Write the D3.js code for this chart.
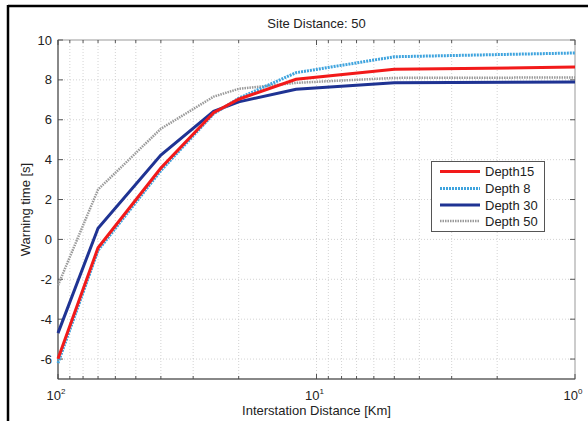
<!DOCTYPE html>
<html>
<head>
<meta charset="utf-8">
<script src="https://cdn.jsdelivr.net/npm/d3@7"></script>
<style>
  body { margin: 0; background: #fff; }
  text { font-family: "Liberation Sans", Arial, sans-serif; fill: #222; }
</style>
</head>
<body>
<div id="chart"></div>
<script>
// distances (km) where each curve has a vertex
var distances = [100, 70, 40, 25, 20, 12, 5, 1];

var depth15 = [-5.98, -0.42, 3.58, 6.35, 7.03, 8.03, 8.53, 8.64];
var depth8  = [-6.2, -0.55, 3.45, 6.3, 7.08, 8.36, 9.16, 9.35];
var depth30 = [-4.7, 0.56, 4.23, 6.42, 6.9, 7.53, 7.86, 7.9];
var depth50 = [-2.3, 2.5, 5.55, 7.16, 7.55, 7.85, 8.1, 8.12];

var seriesNames = ["Depth15", "Depth 8", "Depth 30", "Depth 50"];
var yTicks = [-6, -4, -2, 0, 2, 4, 6, 8, 10];
var xMajor = [100, 10, 1];
var xLabels = ["2", "1", "0"];

var svgWidth = 588;
var svgHeight = 421;

var svg = d3.select("#chart")
  .append("svg")
  .attr("width", svgWidth)
  .attr("height", svgHeight);

var plotLeft = 58, plotRight = 575, plotTop = 40, plotBottom = 379;

var x = d3.scaleLog().domain([100, 1]).range([plotLeft, plotRight]);
var y = d3.scaleLinear().domain([-7, 10]).range([plotBottom, plotTop]);

// figure border (only top/left visible in the shot)
svg.append("line").attr("x1", 8).attr("x2", 588).attr("y1", 6).attr("y2", 6)
  .attr("stroke", "#000").attr("stroke-width", 2.5);
svg.append("line").attr("x1", 8).attr("x2", 8).attr("y1", 5).attr("y2", 421)
  .attr("stroke", "#000").attr("stroke-width", 2.5);

// minor + major vertical positions
var xMinor = [];
[1, 10].forEach(function(k) {
  for (var m = 2; m <= 9; m++) xMinor.push(m * k);
});
var xGrid = xMinor.concat([10]);

var grid = svg.append("g");
grid.selectAll(".vg")
  .data(xGrid)
  .enter()
  .append("line")
  .attr("x1", d => x(d)).attr("x2", d => x(d))
  .attr("y1", plotTop).attr("y2", plotBottom)
  .attr("stroke", "#c8c8c8")
  .attr("stroke-width", 0.8)
  .attr("stroke-dasharray", "1,2");

grid.selectAll(".hg")
  .data(yTicks.filter(d => d < 10))
  .enter()
  .append("line")
  .attr("x1", plotLeft).attr("x2", plotRight)
  .attr("y1", d => y(d)).attr("y2", d => y(d))
  .attr("stroke", "#c8c8c8")
  .attr("stroke-width", 0.8)
  .attr("stroke-dasharray", "1,2");

// box
svg.append("rect")
  .attr("x", plotLeft).attr("y", plotTop)
  .attr("width", plotRight - plotLeft).attr("height", plotBottom - plotTop)
  .attr("fill", "none").attr("stroke", "#999").attr("stroke-width", 1);

// inward ticks
var ticks = svg.append("g").attr("stroke", "#555").attr("stroke-width", 1);
xMinor.concat(xMajor).forEach(function(d) {
  var len = xMajor.indexOf(d) >= 0 ? 5 : 3;
  ticks.append("line").attr("x1", x(d)).attr("x2", x(d)).attr("y1", plotBottom).attr("y2", plotBottom - len);
  ticks.append("line").attr("x1", x(d)).attr("x2", x(d)).attr("y1", plotTop).attr("y2", plotTop + len);
});
yTicks.forEach(function(d) {
  ticks.append("line").attr("x1", plotLeft).attr("x2", plotLeft + 5).attr("y1", y(d)).attr("y2", y(d));
  ticks.append("line").attr("x1", plotRight).attr("x2", plotRight - 5).attr("y1", y(d)).attr("y2", y(d));
});

// left and bottom axis lines
svg.append("line").attr("x1", plotLeft).attr("x2", plotLeft).attr("y1", plotTop).attr("y2", plotBottom)
  .attr("stroke", "#444").attr("stroke-width", 1);
svg.append("line").attr("x1", plotLeft).attr("x2", plotRight).attr("y1", plotBottom).attr("y2", plotBottom)
  .attr("stroke", "#444").attr("stroke-width", 1);

// y tick labels
svg.selectAll(".ytl")
  .data(yTicks)
  .enter()
  .append("text")
  .attr("x", plotLeft - 6)
  .attr("y", d => y(d) + 4.5)
  .attr("text-anchor", "end")
  .attr("font-size", 13)
  .text(d => d);

// x tick labels 10^k
xMajor.forEach(function(d, i) {
  var t = svg.append("text")
    .attr("x", x(d) - 2)
    .attr("y", 400)
    .attr("text-anchor", "middle")
    .attr("font-size", 13);
  t.append("tspan").text("10");
  t.append("tspan").attr("dy", -6).attr("font-size", 8).text(xLabels[i]);
});

// titles
svg.append("text")
  .attr("x", (plotLeft + plotRight) / 2).attr("y", 28)
  .attr("text-anchor", "middle").attr("font-size", 13)
  .text("Site Distance: 50");

svg.append("text")
  .attr("x", (plotLeft + plotRight) / 2).attr("y", 415)
  .attr("text-anchor", "middle").attr("font-size", 13)
  .text("Interstation Distance [Km]");

svg.append("text")
  .attr("transform", `translate(30, ${(plotTop + plotBottom) / 2}) rotate(-90)`)
  .attr("text-anchor", "middle").attr("font-size", 13)
  .text("Warning time [s]");

// series
var styles = [
  { values: depth15, color: "#f21a1a", width: 3, dash: null },
  { values: depth8,  color: "#3fa4de", width: 3, dash: "2,1" },
  { values: depth30, color: "#1f3393", width: 3, dash: null },
  { values: depth50, color: "#9a9a9a", width: 2.5, dash: "1.5,1" }
];

var line = d3.line()
  .x((d, i) => x(distances[i]))
  .y(d => y(d));

// draw order: gray, dark blue, light blue, red on top (as in the figure)
[3, 2, 1, 0].forEach(function(i) {
  var s = styles[i];
  svg.append("path")
    .datum(s.values)
    .attr("d", line)
    .attr("fill", "none")
    .attr("stroke", s.color)
    .attr("stroke-width", s.width)
    .attr("stroke-dasharray", s.dash);
});

// legend
var lg = svg.append("g");
lg.append("rect")
  .attr("x", 431.5).attr("y", 161.5)
  .attr("width", 113).attr("height", 70)
  .attr("fill", "#fff").attr("stroke", "#555").attr("stroke-width", 1);

var rowY = [171.5, 188.5, 205, 221];
styles.forEach(function(s, i) {
  lg.append("line")
    .attr("x1", 440).attr("x2", 480)
    .attr("y1", rowY[i]).attr("y2", rowY[i])
    .attr("stroke", s.color)
    .attr("stroke-width", s.width)
    .attr("stroke-dasharray", s.dash);
  lg.append("text")
    .attr("x", 485).attr("y", rowY[i] + 4.5)
    .attr("font-size", 13)
    .text(seriesNames[i]);
});
</script>
</body>
</html>
